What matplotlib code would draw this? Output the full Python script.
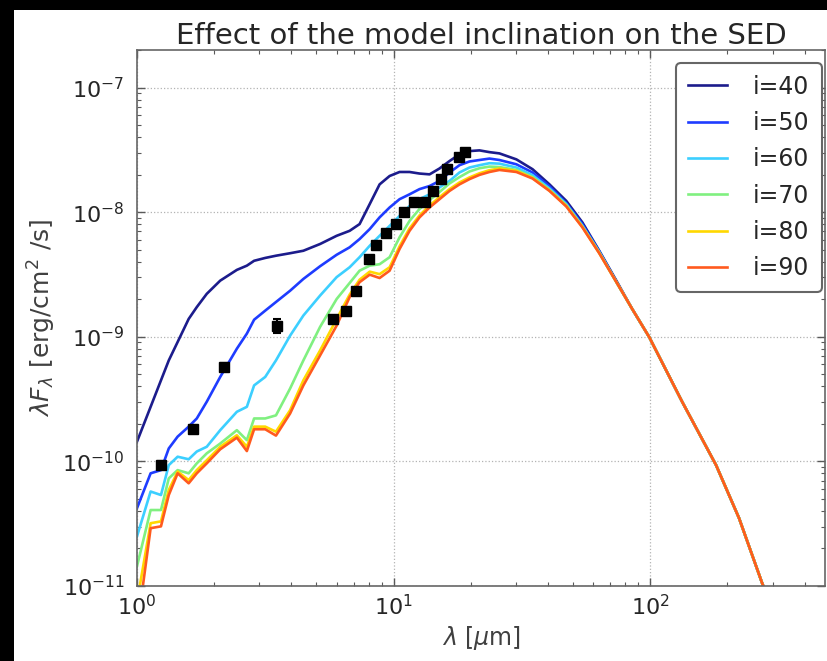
import matplotlib
matplotlib.use("Agg")
import matplotlib.pyplot as plt
from matplotlib.patches import Rectangle

# Model SED wavelengths (micron)
wavelength = [1.00, 1.13, 1.24, 1.33, 1.44, 1.59, 1.71, 1.87, 2.11, 2.45, 2.68, 2.86,
              3.16, 3.48, 3.95, 4.45, 5.17, 6.00, 6.74, 7.37, 8.07, 8.82, 9.65, 10.55,
              11.54, 12.62, 13.81, 15.10, 16.52, 18.06, 19.76, 21.61, 23.64, 25.85, 30.1,
              34.8, 40.5, 47.1, 54.4, 63.3, 73.8, 85.1, 99.1, 133.2, 180.6, 222.0, 272.8, 303.8]

# lambda F_lambda (erg/cm^2/s) for each inclination
flux_i40 = [1.44e-10, 2.74e-10, 4.47e-10, 6.46e-10, 9.08e-10, 1.39e-9, 1.73e-9, 2.21e-9, 2.82e-9,
            3.44e-9, 3.72e-9, 4.07e-9, 4.29e-9, 4.47e-9, 4.68e-9, 4.90e-9, 5.55e-9, 6.46e-9,
            7.08e-9, 8.02e-9, 1.16e-8, 1.67e-8, 1.95e-8, 2.10e-8, 2.10e-8, 2.04e-8, 2.01e-8,
            2.24e-8, 2.57e-8, 2.91e-8, 3.09e-8, 3.13e-8, 3.03e-8,
            2.96e-8, 2.65e-8, 2.21e-8, 1.67e-8, 1.23e-8, 8.28e-9, 4.90e-9,
            2.82e-9, 1.67e-9, 9.95e-10, 3.01e-10, 9.33e-11, 3.50e-11, 1.06e-11, 6.05e-12]
flux_i50 = [4.21e-11, 8.02e-11, 8.51e-11, 1.27e-10, 1.58e-10, 1.90e-10, 2.21e-10, 3.01e-10, 4.76e-10,
            8.02e-10, 1.06e-9, 1.37e-9, 1.62e-9, 1.90e-9, 2.34e-9, 2.91e-9, 3.68e-9, 4.55e-9,
            5.22e-9, 6.08e-9, 7.31e-9, 9.08e-9, 1.09e-8, 1.27e-8, 1.39e-8, 1.53e-8, 1.62e-8,
            1.78e-8, 2.08e-8, 2.38e-8, 2.55e-8, 2.62e-8, 2.69e-8,
            2.62e-8, 2.42e-8, 2.08e-8, 1.61e-8, 1.18e-8, 8.02e-9, 4.85e-9,
            2.77e-9, 1.67e-9, 9.95e-10, 3.01e-10, 9.33e-11, 3.50e-11, 1.06e-11, 6.05e-12]
flux_i60 = [2.50e-11, 5.73e-11, 5.37e-11, 9.33e-11, 1.09e-10, 1.04e-10, 1.20e-10, 1.31e-10, 1.78e-10,
            2.50e-10, 2.74e-10, 4.07e-10, 4.76e-10, 6.46e-10, 1.02e-9, 1.48e-9, 2.14e-9, 3.01e-9,
            3.61e-9, 4.35e-9, 5.37e-9, 6.46e-9, 7.76e-9, 9.33e-9, 1.12e-8, 1.27e-8, 1.39e-8,
            1.58e-8, 1.78e-8, 2.08e-8, 2.28e-8, 2.38e-8, 2.47e-8,
            2.45e-8, 2.28e-8, 1.98e-8, 1.55e-8, 1.16e-8, 7.76e-9, 4.79e-9,
            2.75e-9, 1.67e-9, 9.95e-10, 3.01e-10, 9.33e-11, 3.50e-11, 1.06e-11, 6.05e-12]
flux_i70 = [1.44e-11, 4.07e-11, 4.07e-11, 7.31e-11, 8.51e-11, 8.02e-11, 9.64e-11, 1.16e-10, 1.39e-10,
            1.78e-10, 1.48e-10, 2.21e-10, 2.21e-10, 2.34e-10, 3.84e-10, 6.46e-10, 1.20e-9, 2.01e-9,
            2.70e-9, 3.39e-9, 3.72e-9, 3.82e-9, 4.35e-9, 6.28e-9, 8.51e-9, 1.06e-8, 1.25e-8,
            1.45e-8, 1.70e-8, 1.91e-8, 2.12e-8, 2.25e-8, 2.32e-8,
            2.30e-8, 2.18e-8, 1.91e-8, 1.51e-8, 1.14e-8, 7.69e-9, 4.72e-9,
            2.75e-9, 1.67e-9, 9.95e-10, 3.01e-10, 9.33e-11, 3.50e-11, 1.06e-11, 6.05e-12]
flux_i80 = [7.45e-12, 3.19e-11, 3.30e-11, 5.89e-11, 8.28e-11, 7.08e-11, 8.51e-11, 1.02e-10, 1.31e-10,
            1.62e-10, 1.31e-10, 1.90e-10, 1.90e-10, 1.73e-10, 2.57e-10, 4.47e-10, 7.76e-10, 1.39e-9,
            2.18e-9, 2.87e-9, 3.33e-9, 3.18e-9, 3.61e-9, 5.32e-9, 7.41e-9, 9.42e-9, 1.13e-8,
            1.32e-8, 1.53e-8, 1.73e-8, 1.90e-8, 2.05e-8, 2.17e-8,
            2.24e-8, 2.14e-8, 1.88e-8, 1.49e-8, 1.12e-8, 7.62e-9, 4.70e-9,
            2.75e-9, 1.67e-9, 9.95e-10, 3.01e-10, 9.33e-11, 3.50e-11, 1.06e-11, 6.05e-12]
flux_i90 = [4.45e-12, 2.91e-11, 3.01e-11, 5.37e-11, 8.02e-11, 6.67e-11, 8.02e-11, 9.64e-11, 1.25e-10,
            1.55e-10, 1.21e-10, 1.81e-10, 1.81e-10, 1.61e-10, 2.42e-10, 4.07e-10, 7.08e-10, 1.23e-9,
            2.08e-9, 2.74e-9, 3.15e-9, 2.96e-9, 3.39e-9, 5.06e-9, 7.08e-9, 9.08e-9, 1.09e-8,
            1.27e-8, 1.48e-8, 1.67e-8, 1.84e-8, 1.99e-8, 2.10e-8,
            2.18e-8, 2.10e-8, 1.86e-8, 1.48e-8, 1.11e-8, 7.55e-9, 4.68e-9,
            2.75e-9, 1.67e-9, 9.95e-10, 3.01e-10, 9.33e-11, 3.50e-11, 1.06e-11, 6.05e-12]

inclinations = ["i=40", "i=50", "i=60", "i=70", "i=80", "i=90"]
colors = ["#1c1c8c", "#1e3cff", "#3ccfff", "#80f080", "#ffd800", "#ff5a1e"]

# Observed photometry
obs_wavelength = [1.24, 1.66, 2.19, 3.50, 5.80, 6.51, 7.11, 7.99, 8.56, 9.31, 10.18, 10.97,
                  12.0, 13.2, 14.2, 15.3, 16.2, 17.95, 19.0]
obs_flux = [9.35e-11, 1.81e-10, 5.73e-10, 1.23e-9, 1.39e-9, 1.62e-9, 2.34e-9, 4.21e-9, 5.45e-9,
            6.79e-9, 8.02e-9, 9.95e-9, 1.21e-8, 1.21e-8, 1.48e-8, 1.84e-8, 2.21e-8, 2.79e-8, 3.03e-8]
obs_error = [6.5e-12, 1.3e-11, 4.0e-11, 1.5e-10, 7.0e-11, 8.0e-11, 1.2e-10, 2.1e-10, 2.7e-10,
             3.4e-10, 4.0e-10, 5.0e-10, 6.0e-10, 6.0e-10, 7.4e-10, 9.2e-10, 1.1e-9, 1.4e-9, 1.5e-9]

plt.rcParams["font.family"] = ["DejaVu Sans"]
plt.rcParams["mathtext.fontset"] = "dejavusans"
plt.rcParams["axes.unicode_minus"] = False

W, H = 827, 661
fig = plt.figure(figsize=(W / 100, H / 100), dpi=100)
fig.patch.set_facecolor("black")
# white canvas inset from the black border on the left and top
fig.patches.append(Rectangle((14 / W, 0), 1, (H - 10) / H, transform=fig.transFigure,
                             facecolor="white", edgecolor="none", zorder=-10))

ax = fig.add_axes([137 / W, (H - 586) / H, (825 - 137) / W, (586 - 50) / H])

series = [flux_i40, flux_i50, flux_i60, flux_i70, flux_i80, flux_i90]
for flux, lab, col in zip(series, inclinations, colors):
    ax.plot(wavelength, flux, color=col, lw=1.9, label=lab)

ax.errorbar(obs_wavelength, obs_flux, yerr=obs_error, fmt="s", color="black",
            ms=6.5, mec="black", mfc="black", elinewidth=1.5, capsize=3, capthick=1.5,
            zorder=5)

ax.set_xscale("log")
ax.set_yscale("log")
ax.set_xlim(1, 480)
ax.set_ylim(1e-11, 2e-7)

ax.grid(True, which="major", color="0.7", linestyle=":", linewidth=0.9)
ax.tick_params(which="both", direction="in", top=True, right=True, colors="0.35",
               labelcolor="0.15", labelsize=16)
ax.tick_params(which="major", length=6, width=1)
ax.tick_params(which="minor", length=3, width=0.8)
ax.tick_params(axis="x", pad=6)
ax.tick_params(axis="y", pad=9)
for s in ax.spines.values():
    s.set_color("0.4")
    s.set_linewidth(1.2)

ax.set_title("Effect of the model inclination on the SED", fontsize=21, color="0.15", pad=3)
ax.set_xlabel(r"$\lambda$ [$\mu$m]", fontsize=17, color="0.25", labelpad=3)
ax.set_ylabel(r"$\lambda F_\lambda$ [erg/cm$^2$ /s]", fontsize=18, color="0.25", labelpad=3)

leg = ax.legend(loc="upper right", bbox_to_anchor=(0.995, 0.976), borderaxespad=0,
                fontsize=17, handlelength=1.65, handletextpad=1.1, labelspacing=0.52,
                borderpad=0.5, fancybox=True, framealpha=1)
leg.get_frame().set_edgecolor("0.4")
leg.get_frame().set_linewidth(1.5)
for t in leg.get_texts():
    t.set_color("0.15")

fig.savefig("out.png", dpi=100, facecolor=fig.get_facecolor())
